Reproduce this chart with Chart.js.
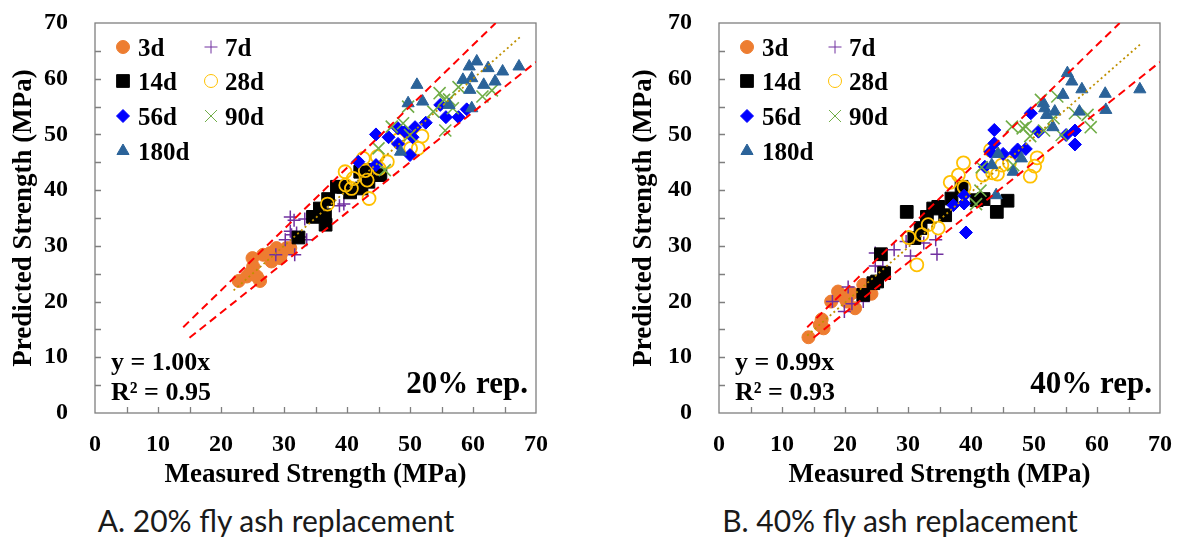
<!DOCTYPE html>
<html>
<head>
<meta charset="utf-8">
<script src="https://cdn.jsdelivr.net/npm/chart.js@4.4.0/dist/chart.umd.min.js"></script>
<style>
  html, body { margin: 0; padding: 0; background: #fff; }
  body { width: 1179px; height: 540px; position: relative; overflow: hidden; }
  canvas { position: absolute; top: 0; }
  #chartA { left: 0; }
  #chartB { left: 624px; }
  .caption { position: absolute; top: 505px; line-height: 1; font-family: Lato, 'Open Sans', sans-serif; font-size: 30px; color: #1a1a1a; white-space: nowrap; transform: translateX(-50%); }
</style>
</head>
<body>
<canvas id="chartA" width="560" height="500"></canvas>
<canvas id="chartB" width="555" height="500"></canvas>
<div class="caption" style="left:276px">A. 20% fly ash replacement</div>
<div class="caption" style="left:900px">B. 40% fly ash replacement</div>
<script>
// --- datos ---
const seriesNames = ['3d', '7d', '14d', '28d', '56d', '90d', '180d'];
const axisTicks = [0, 10, 20, 30, 40, 50, 60, 70];
const minorStep = 5;

// A. 20% reemplazo
const a3d = [[22.8,23.7],[24.1,24.5],[25.0,27.8],[25.1,26.3],[24.6,25.1],[26.2,23.7],[25.7,24.5],[26.7,28.4],[27.8,28.7],[28.0,27.2],[28.8,29.6],[29.4,27.8],[30.4,29.6],[31.0,29.6],[29.6,28.7]];
const a7d = [[31.0,35.2],[31.6,34.6],[33.3,34.8],[31.0,32.6],[31.2,32.0],[32.0,32.3],[30.2,31.1],[33.6,31.1],[28.7,28.4],[31.7,28.4],[38.8,37.2],[39.5,37.5],[32.6,31.6]];
const a14d = [[32.3,31.5],[34.6,35.2],[35.7,36.7],[36.5,35.5],[36.6,33.8],[37.0,38.4],[38.4,40.6],[39.4,40.6],[40.5,39.6],[42.3,40.3],[42.1,43.3],[43.4,41.5],[43.1,43.6],[45.3,42.7]];
const a28d = [[36.9,37.5],[39.7,43.3],[39.8,40.9],[41.0,42.1],[40.7,40.3],[42.6,45.7],[42.9,43.5],[43.2,41.8],[43.5,38.5],[44.8,46.0],[45.1,43.9],[46.4,45.1],[48.1,49.0],[50.1,47.5],[51.3,47.5],[51.9,49.7]];
const a56d = [[41.8,45.1],[44.6,50.0],[44.6,44.5],[46.6,49.5],[48.1,51.1],[48.1,48.3],[49.2,50.5],[50.0,46.3],[50.4,49.5],[50.8,51.3],[52.5,52.1],[54.8,55.3],[55.7,53.1],[57.7,53.1],[59.0,54.5]];
const a90d = [[45.0,47.5],[46.0,43.6],[47.1,51.4],[48.9,52.0],[49.7,55.0],[50.0,49.9],[53.7,54.1],[54.7,57.4],[55.4,56.2],[56.2,56.3],[56.8,54.7],[55.6,50.7],[57.7,58.5],[61.5,56.8],[63.0,57.9]];
const a180d = [[48.5,46.9],[49.7,55.6],[51.1,58.9],[52.0,55.9],[56.2,55.3],[58.4,59.8],[59.4,62.2],[59.8,60.1],[60.6,63.1],[59.5,58.0],[59.8,54.7],[61.7,58.9],[62.4,61.9],[63.5,59.5],[64.7,61.3],[67.3,62.2]];
const aUpper = [[14.0,15.4],[63.6,70.0]];
const aLower = [[15.0,13.5],[70.0,63.0]];
const aFit = [[22.0,22.0],[67.5,67.5]];
const aEquation = ['y = 1.00x', 'R² = 0.95'];
const aTag = '20% rep.';

// B. 40% reemplazo
const b3d = [[14.2,13.6],[16.0,15.8],[16.3,16.8],[16.6,15.2],[17.8,20.0],[18.9,21.8],[19.7,20.9],[20.3,20.0],[21.1,21.5],[21.6,18.8],[22.9,23.0],[23.2,21.5],[23.4,22.4],[24.2,21.4]];
const b7d = [[18.0,20.0],[19.9,18.2],[20.5,22.6],[21.1,19.6],[22.9,20.0],[24.8,26.4],[24.8,28.7],[26.0,26.3],[27.8,29.3],[29.7,30.8],[30.4,28.2],[32.5,30.5],[34.4,31.1],[34.6,28.5]];
const b14d = [[22.9,21.2],[24.5,23.3],[25.1,23.6],[26.2,25.1],[25.7,28.5],[29.8,36.1],[31.0,31.4],[32.0,33.2],[33.0,35.2],[34.0,36.7],[34.8,37.0],[35.9,35.5],[36.9,38.5],[38.5,40.6],[40.9,38.2],[42.0,38.4],[44.1,36.1],[45.8,38.1]];
const b28d = [[30.1,31.5],[31.4,26.6],[32.2,32.0],[33.2,33.8],[34.8,33.2],[36.7,41.4],[38.0,42.7],[38.8,44.9],[38.9,40.5],[41.9,42.7],[43.1,47.2],[43.4,43.1],[44.2,42.9],[44.9,44.5],[46.1,44.9],[49.4,42.5],[50.1,44.3],[50.5,45.8]];
const b56d = [[37.2,37.3],[38.9,39.0],[38.9,37.6],[39.2,32.4],[42.2,44.2],[43.1,46.9],[43.7,50.8],[43.7,48.4],[45.1,46.5],[47.0,46.7],[47.4,47.3],[48.7,47.4],[49.5,53.8],[50.7,50.5],[55.1,49.9],[56.5,50.7],[56.5,48.2]];
const b90d = [[40.8,37.5],[41.5,39.9],[41.7,44.1],[46.7,44.5],[46.5,51.4],[48.2,51.1],[48.7,51.4],[49.4,49.7],[51.1,56.2],[51.6,50.7],[53.1,52.9],[53.7,56.8],[54.4,49.9],[56.5,53.8],[58.5,53.5],[59.0,51.3]];
const b180d = [[43.3,44.5],[44.0,39.1],[44.3,46.5],[46.7,43.3],[48.0,45.7],[51.5,55.6],[51.7,54.7],[52.0,53.5],[53.0,51.3],[53.3,54.1],[54.6,57.1],[55.3,61.0],[56.0,59.5],[57.6,58.1],[57.2,54.1],[61.3,57.3],[61.4,54.4],[66.8,58.1]];
const bUpper = [[14.0,15.4],[63.6,70.0]];
const bLower = [[15.0,13.5],[70.0,63.0]];
const bFit = [[14.0,13.9],[67.0,66.3]];
const bEquation = ['y = 0.99x', 'R² = 0.93'];
const bTag = '40% rep.';

// --- estilos ---
const SERIF = "'Liberation Serif', 'Times New Roman', serif";
const FRAME = '#7f7f7f';
const markers = [
    { style: 'circle',   r: 6.5, fill: '#ED7D31',       stroke: '#ED7D31', bw: 1 },
    { style: 'cross',    r: 6.5, fill: '#7030A0',       stroke: '#7030A0', bw: 1.5 },
    { style: 'rect',     r: 9,   fill: '#000000',       stroke: '#000000', bw: 1 },
    { style: 'circle',   r: 6.5, fill: 'rgba(0,0,0,0)', stroke: '#FFC000', bw: 1.8 },
    { style: 'rectRot',  r: 6.5, fill: '#0000FF',       stroke: '#0000FF', bw: 1 },
    { style: 'crossRot', r: 8.5, fill: '#70AD47',       stroke: '#70AD47', bw: 1.6 },
    { style: 'triangle', r: 7,   fill: '#2B6399',       stroke: '#2B6399', bw: 1 }
];

const toXY = pts => pts.map(p => ({ x: p[0], y: p[1] }));

const lineDataset = (pts, color, dash, width) => ({
    type: 'line',
    data: toXY(pts),
    borderColor: color,
    borderDash: dash,
    borderWidth: width,
    pointRadius: 0,
    fill: false,
    order: -20
});

// marco, marcas interiores, leyenda y textos
const decorPlugin = {
    id: 'decor',
    beforeDatasetsDraw(chart) {
        const { ctx, chartArea: a, scales } = chart;
        ctx.save();
        ctx.strokeStyle = FRAME;
        ctx.lineWidth = 1.3;
        ctx.strokeRect(a.left, a.top, a.right - a.left, a.bottom - a.top);
        ctx.beginPath();
        for (let v = minorStep; v < 70; v += minorStep) {
            const px = Math.round(scales.x.getPixelForValue(v)) + 0.5;
            ctx.moveTo(px, a.bottom);
            ctx.lineTo(px, a.bottom - 6);
            const py = Math.round(scales.y.getPixelForValue(v)) + 0.5;
            ctx.moveTo(a.left, py);
            ctx.lineTo(a.left + 6, py);
        }
        ctx.stroke();
        ctx.restore();
    },
    afterDatasetsDraw(chart, args, opts) {
        const { ctx, chartArea: a } = chart;
        ctx.save();
        // leyenda en dos columnas
        ctx.font = 'bold 25px ' + SERIF;
        ctx.fillStyle = '#000';
        ctx.textBaseline = 'alphabetic';
        const rowsY = [47, 81, 116, 151];
        seriesNames.forEach((name, i) => {
            const col = i % 2, row = Math.floor(i / 2);
            const m = markers[i];
            const mx = a.left + (col ? 116 : 28);
            const my = a.top + rowsY[row] - 23;
            ctx.fillStyle = m.fill;
            ctx.strokeStyle = m.stroke;
            Chart.helpers.drawPoint(ctx, { pointStyle: m.style, radius: m.r, borderWidth: m.bw, rotation: 0 }, mx, my);
            ctx.fillStyle = '#000';
            ctx.fillText(name, a.left + (col ? 130 : 43), my + 8.5);
        });
        // ecuacion y etiqueta
        ctx.font = 'bold 26px ' + SERIF;
        ctx.textAlign = 'left';
        ctx.fillText(opts.equation[0], a.left + 16, 370);
        ctx.fillText(opts.equation[1], a.left + 16, 400);
        ctx.font = 'bold 31px ' + SERIF;
        ctx.textAlign = 'right';
        ctx.fillText(opts.tag, a.right - 8, 393);
        ctx.restore();
    }
};

const makeChart = (canvasId, groups, upper, lower, fit, equation, tag, padRight, titlePad) => {
    const datasets = groups.map((pts, i) => ({
        label: seriesNames[i],
        data: toXY(pts),
        pointStyle: markers[i].style,
        pointRadius: markers[i].r,
        pointHoverRadius: markers[i].r,
        pointBackgroundColor: markers[i].fill,
        pointBorderColor: markers[i].stroke,
        pointBorderWidth: markers[i].bw,
        showLine: false,
        order: -i
    }));
    datasets.push(lineDataset(upper, '#FF0000', [8, 5], 2));
    datasets.push(lineDataset(lower, '#FF0000', [8, 5], 2));
    datasets.push(lineDataset(fit, '#BF9000', [2, 3], 1.8));

    const tickFont = { family: SERIF, size: 24, weight: 'bold', lineHeight: 1 };
    const titleFont = { family: SERIF, size: 27, weight: 'bold', lineHeight: 1 };

    return new Chart(document.getElementById(canvasId), {
        type: 'scatter',
        data: { datasets },
        options: {
            responsive: false,
            animation: false,
            layout: { padding: { top: 23, right: padRight, left: 0, bottom: 0 } },
            plugins: {
                legend: { display: false },
                tooltip: { enabled: false },
                decor: { equation, tag }
            },
            scales: {
                x: {
                    type: 'linear', min: 0, max: 70,
                    afterBuildTicks: s => { s.ticks = axisTicks.map(v => ({ value: v })); },
                    ticks: { font: tickFont, color: '#000', padding: 0, maxRotation: 0, autoSkip: false },
                    // la separacion de las etiquetas va en tickLength (las marcas se dibujan en el plugin)
                    grid: { display: false, drawTicks: true, tickLength: 20 },
                    border: { display: false },
                    title: { display: true, text: 'Measured Strength (MPa)', font: titleFont, color: '#000', padding: { top: 0, bottom: 11 } },
                    afterFit: s => { s.height = 87; }
                },
                y: {
                    type: 'linear', min: 0, max: 70,
                    afterBuildTicks: s => { s.ticks = axisTicks.map(v => ({ value: v })); },
                    ticks: { font: tickFont, color: '#000', padding: 0, autoSkip: false },
                    grid: { display: false, drawTicks: true, tickLength: 27 },
                    border: { display: false },
                    title: { display: true, text: 'Predicted Strength (MPa)', font: titleFont, color: '#000', padding: { top: titlePad, bottom: 0 } },
                    afterFit: s => { s.width = 95; }
                }
            }
        },
        plugins: [decorPlugin]
    });
};

makeChart('chartA', [a3d, a7d, a14d, a28d, a56d, a90d, a180d], aUpper, aLower, aFit, aEquation, aTag, 24, 11);
makeChart('chartB', [b3d, b7d, b14d, b28d, b56d, b90d, b180d], bUpper, bLower, bFit, bEquation, bTag, 19, 7);
</script>
</body>
</html>
